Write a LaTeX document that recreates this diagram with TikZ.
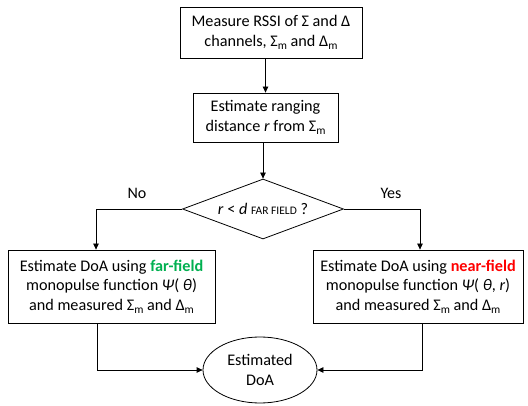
\documentclass[tikz,border=0pt]{standalone}
\usepackage{fontspec}
\setmainfont{Carlito}
\usetikzlibrary{shapes.geometric,arrows.meta}
\definecolor{ffgreen}{RGB}{0,176,80}
\definecolor{nfred}{RGB}{255,0,0}
\newcommand{\subm}{\raisebox{-0.4ex}{\fontsize{11.5}{11.5}\selectfont m}}
\tikzset{
  box/.style={draw, line width=0.8pt, align=center, inner sep=0pt, font=\fontsize{16.2}{19.5}\selectfont},
  flow/.style={draw, line width=0.8pt, -{Triangle[length=6pt,width=5.5pt]}},
  lbl/.style={font=\fontsize{16}{18}\selectfont},
}
\begin{document}
\begin{tikzpicture}[x=1pt,y=-1pt]
\useasboundingbox[fill=white] (0,0) rectangle (528,406);
\node[box, minimum width=182pt, minimum height=51pt] (b1) at (271,32.5)
  {Measure RSSI of Σ and Δ\\channels, Σ\subm{} and Δ\subm};
\node[box, minimum width=145pt, minimum height=49pt] (b2) at (265.5,117.5)
  {Estimate ranging\\distance \textit{r} from Σ\subm};
\node[box, shape=diamond, aspect=2.68, minimum width=161pt, minimum height=60pt] (dia) at (263,209)
  {\textit{r} < \textit{d} {\fontsize{11.5}{11.5}\selectfont FAR FIELD} ?};
\node[box, minimum width=207pt, minimum height=73pt] (L) at (111.5,286.5)
  {Estimate DoA using \textbf{\color{ffgreen}far-field}\\monopulse function \textit{Ψ}( \textit{θ})\\and measured Σ\subm{} and Δ\subm};
\node[box, minimum width=210pt, minimum height=73pt] (R) at (418,286.5)
  {Estimate DoA using \textbf{\color{nfred}near-field}\\monopulse function \textit{Ψ}( \textit{θ}, \textit{r})\\and measured Σ\subm{} and Δ\subm};
\node[box, shape=ellipse, minimum width=114pt, minimum height=66pt] (E) at (260,370)
  {Estimated\\DoA};
\node[lbl] (no) at (137,193) {No};
\node[lbl] (yes) at (391,193) {Yes};
\draw[flow] (b1.south -| b2.north) -- (b2.north);
\draw[flow] (b2.south -| dia.north) -- (dia.north);
\draw[flow] (dia.west) -| ([xshift=-15.5pt]L.north);
\draw[flow] (dia.east) -| ([xshift=2pt]R.north);
\draw[flow] ([xshift=-14.5pt]L.south) |- (E.west);
\draw[flow] ([xshift=4pt]R.south) |- (E.east);
\end{tikzpicture}
\end{document}
